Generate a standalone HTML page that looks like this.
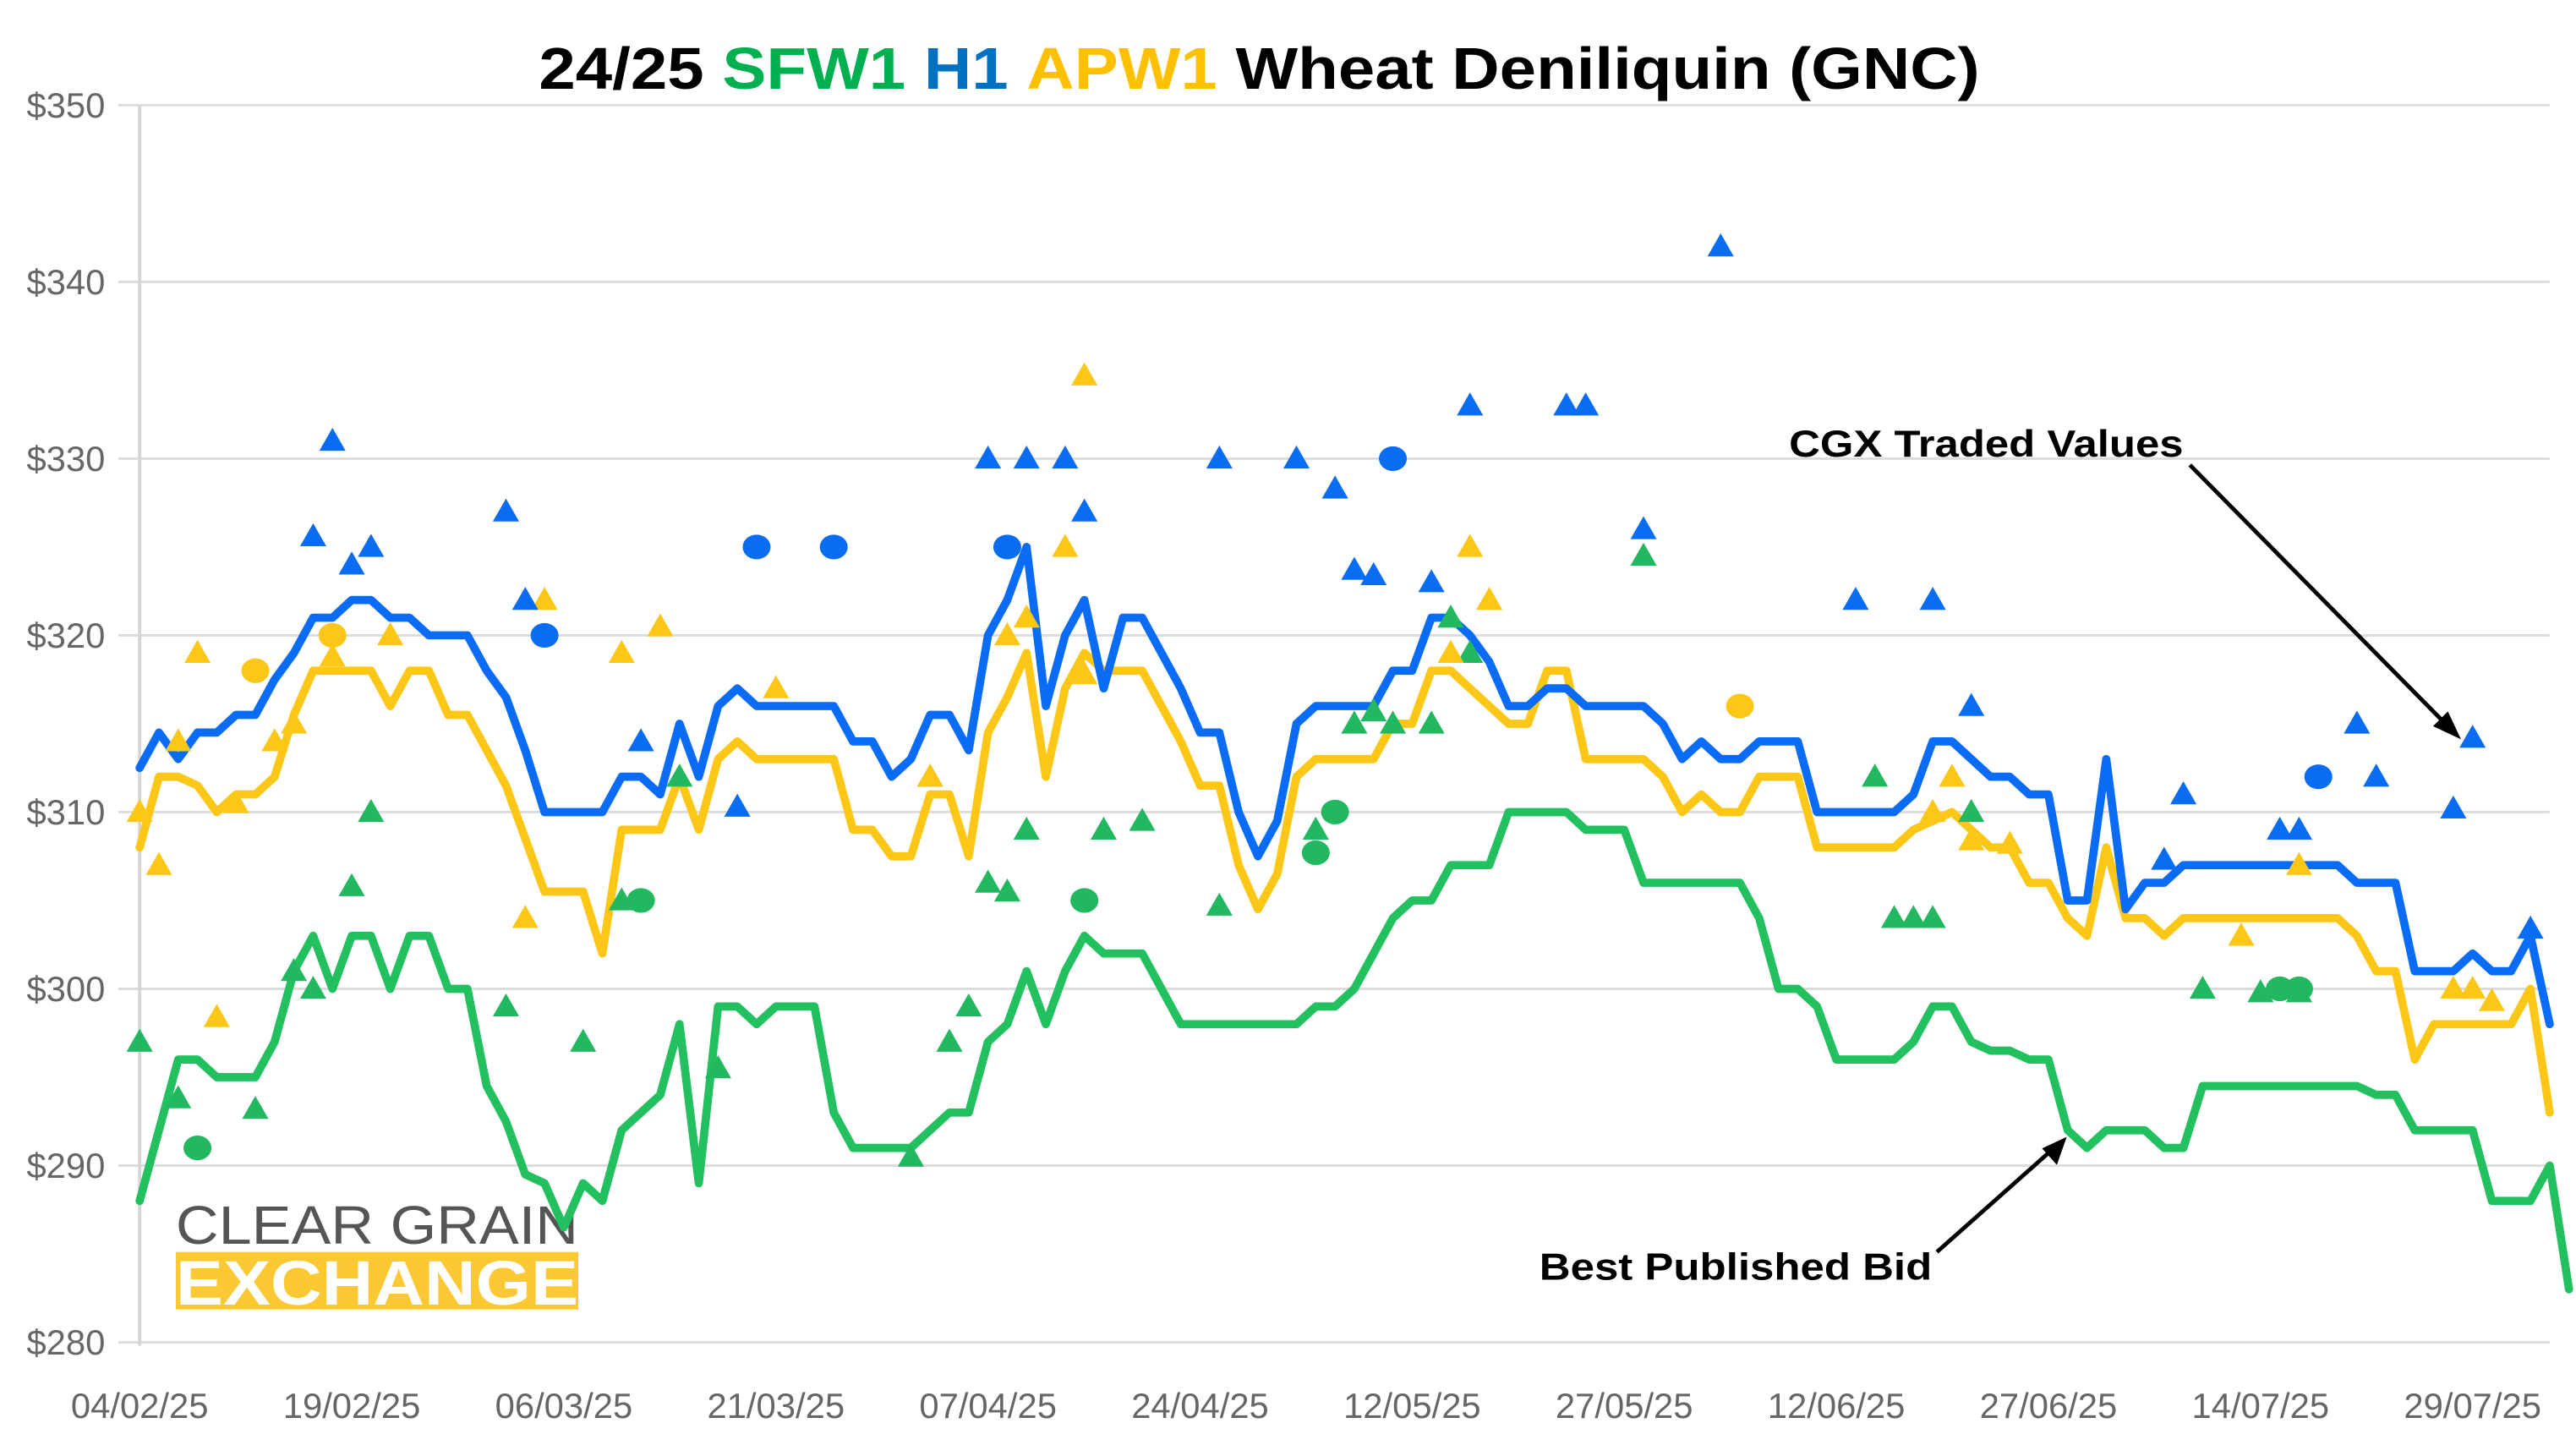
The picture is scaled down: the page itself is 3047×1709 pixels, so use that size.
<!DOCTYPE html>
<html><head><meta charset="utf-8"><style>html,body{margin:0;padding:0;background:#fff}svg{display:block}</style></head>
<body>
<svg id="chart" width="3047" height="1709" viewBox="0 0 1568 879.5" preserveAspectRatio="none" xmlns="http://www.w3.org/2000/svg" font-family="'Liberation Sans', sans-serif">
<text x="328" y="54" font-size="36" font-weight="bold" textLength="877" lengthAdjust="spacingAndGlyphs"><tspan fill="#000">24/25 </tspan><tspan fill="#00b050">SFW1 </tspan><tspan fill="#0070c0">H1 </tspan><tspan fill="#ffc000">APW1 </tspan><tspan fill="#000">Wheat Deniliquin (GNC)</tspan></text>
<g id="grid"></g>
<g id="yaxis"></g>
<g id="xaxis"></g>
<g id="logo">
<text x="107" y="757" font-size="33" fill="#555" textLength="245" lengthAdjust="spacingAndGlyphs">CLEAR GRAIN</text>
<rect x="107" y="762" width="245" height="35" fill="#fcc934"/>
<text x="107" y="794" font-size="38" font-weight="bold" fill="#fff" textLength="245" lengthAdjust="spacingAndGlyphs">EXCHANGE</text>
</g>
<g id="lines"></g>
<g id="marks"></g>
<g>
<text x="1089" y="278" font-size="23" font-weight="bold" textLength="240" lengthAdjust="spacingAndGlyphs">CGX Traded Values</text>
<line x1="1333" y1="283" x2="1490" y2="442" stroke="#000" stroke-width="2.5"/>
<polygon points="1498,450 1481,442 1490,433" fill="#000"/>
</g>
<g>
<text x="937" y="779" font-size="23" font-weight="bold" textLength="239" lengthAdjust="spacingAndGlyphs">Best Published Bid</text>
<line x1="1179" y1="762" x2="1250" y2="699" stroke="#000" stroke-width="2.5"/>
<polygon points="1258,692 1252,709 1243,699" fill="#000"/>
</g>
</svg>
<script>
const xTickLabels=["04/02/25","19/02/25","06/03/25","21/03/25","07/04/25","24/04/25","12/05/25","27/05/25","12/06/25","27/06/25","14/07/25","29/07/25"];
const yTicks=[280,290,300,310,320,330,340,350];
const h1Bid=[312.5,314.5,313,314.5,314.5,315.5,315.5,317.5,319,321,321,322,322,321,321,320,320,320,318,316.5,313.5,310,310,310,310,312,312,311,315,312,316,317,316,316,316,316,316,314,314,312,313,315.5,315.5,313.5,320,322,325,316,320,322,317,321,321,319,317,314.5,314.5,310,307.5,309.5,315,316,316,316,316,318,318,321,321,320,318.5,316,316,317,317,316,316,316,316,315,313,314,313,313,314,314,314,310,310,310,310,310,311,314,314,313,312,312,311,311,305,305,313,304.5,306,306,307,307,307,307,307,307,307,307,307,306,306,306,301,301,301,302,301,301,303,298];
const apw1Bid=[308,312,312,311.5,310,311,311,312,315.5,318,318,318,318,316,318,318,315.5,315.5,313.5,311.5,308.5,305.5,305.5,305.5,302,309,309,309,312,309,313,314,313,313,313,313,313,309,309,307.5,307.5,311,311,307.5,314.5,316.5,319,312,317,319,318,318,318,316,314,311.5,311.5,307,304.5,306.5,312,313,313,313,313,315,315,318,318,317,316,315,315,318,318,313,313,313,313,312,310,311,310,310,312,312,312,308,308,308,308,308,309,309.5,310,309,308,308,306,306,304,303,308,304,304,303,304,304,304,304,304,304,304,304,304,303,301,301,296,298,298,298,298,298,300,293];
const sfw1Bid=[288,292,296,296,295,295,295,297,301,303,300,303,303,300,303,303,300,300,294.5,292.5,289.5,289,286.5,289,288,292,293,294,298,289,299,299,298,299,299,299,293,291,291,291,291,292,293,293,297,298,301,298,301,303,302,302,302,300,298,298,298,298,298,298,298,299,299,300,302,304,305,305,307,307,307,310,310,310,310,309,309,309,306,306,306,306,306,306,304,300,300,299,296,296,296,296,297,299,299,297,296.5,296.5,296,296,292,291,292,292,292,291,291,294.5,294.5,294.5,294.5,294.5,294.5,294.5,294.5,294.5,294,294,292,292,292,292,288,288,288,290,283];
const h1TriIdx=[9,10,11,12,19,20,26,31,44,46,48,49,56,60,62,63,64,67,69,74,75,78,82,89,93,95,106,105,111,112,115,116,120,121,124];
const h1TriVal=[325.6,331,324,325,327,322,314,310.3,330,330,330,327,330,330,328.3,323.7,323.4,323,333,333,333,326,342,322,322,316,311,307.3,309,309,315,312,310.2,314.2,303.4];
const h1DotIdx=[21,32,36,45,65,113];
const h1DotVal=[320,325,325,325,330,312];
const apwTriIdx=[0,1,2,3,4,5,7,8,10,13,20,21,25,27,33,41,45,46,48,49,49,69,70,68,94,93,95,97,109,112,120,121,122];
const apwTriVal=[310,307,314,319,298.4,310.5,314,315,318.8,320,304,322,319,320.5,317,312,320,321,325,334.7,317.8,325,322,319,312,310,308.4,308.2,303,307,300,300,299.3];
const apwDotIdx=[6,10,83];
const apwDotVal=[318,320,316];
const sfwTriIdx=[0,2,6,8,9,11,12,19,23,25,28,30,40,41,42,43,44,45,46,50,52,56,61,63,64,65,67,68,69,78,90,91,92,93,95,107,110,112];
const sfwTriVal=[297,293.8,293.2,301,300,305.8,310,299,297,305,312,295.5,290.5,312,297,299,306,305.5,309,309,309.5,304.7,309,315,315.7,315,315,321,319,324.5,312,304,304,304,310,300,299.8,299.8];
const sfwDotIdx=[3,26,49,61,62,111,112];
const sfwDotVal=[291,305,305,307.7,310,300,300];

const NS="http://www.w3.org/2000/svg";
const X0=85,X1=1552,N=h1Bid.length-1,Y0=817,Y1=64,VMIN=280,VMAX=350;
function xs(i){return X0+(X1-X0)*i/N;}
function ys(v){return Y0-(v-VMIN)*(Y0-Y1)/(VMAX-VMIN);}
function mk(t,a,p){const e=document.createElementNS(NS,t);for(const k in a)e.setAttribute(k,a[k]);p.appendChild(e);return e;}
const grid=document.getElementById('grid'),ya=document.getElementById('yaxis'),xa=document.getElementById('xaxis');
yTicks.forEach(v=>{
  const l=mk('line',{x1:72,x2:1552,y1:ys(v),y2:ys(v),stroke:'#dcdcdc','stroke-width':1.5},grid);
  
  
  const t=mk('text',{x:64,y:ys(v)+7.5,'text-anchor':'end','font-size':21.5,fill:'#666'},ya);
  t.textContent='$'+v;
  
  
});
mk('line',{x1:X0,x2:X0,y1:Y1,y2:Y0+2,stroke:'#d6d6d6','stroke-width':2},grid);
xTickLabels.forEach((s,k)=>{
  const t=mk('text',{x:xs(k*11),y:863,'text-anchor':'middle','font-size':21.5,fill:'#666'},xa);
  t.textContent=s;
  
  
});
const lines=document.getElementById('lines'),marks=document.getElementById('marks');
function line(arr,col,name){
  const p=mk('polyline',{points:arr.map((v,i)=>xs(i).toFixed(2)+','+ys(v).toFixed(2)).join(' '),fill:'none',stroke:col,'stroke-width':5,'stroke-linejoin':'round','stroke-linecap':'round'},lines);
  
  
}
line(sfw1Bid,'#22c05e','sfw1-bid-line');
line(apw1Bid,'#fdc718','apw1-bid-line');
line(h1Bid,'#0a6cf5','h1-bid-line');
function tris(ix,vals,col,name){
  ix.forEach((i,k)=>{const x=xs(i),y=ys(vals[k]);
    const p=mk('polygon',{points:(x-8)+','+(y+6)+' '+(x+8)+','+(y+6)+' '+x+','+(y-8),fill:col},marks);
    
    });
}
function dots(ix,vals,col,name){
  ix.forEach((i,k)=>{
    const c=mk('ellipse',{cx:xs(i),cy:ys(vals[k]),rx:8.5,ry:7.5,fill:col},marks);
    
    });
}
tris(sfwTriIdx,sfwTriVal,'#22b860','sfw1-traded-triangle');
tris(apwTriIdx,apwTriVal,'#fdc718','apw1-traded-triangle');
tris(h1TriIdx,h1TriVal,'#0a6cf0','h1-traded-triangle');
dots(sfwDotIdx,sfwDotVal,'#22b860','sfw1-traded-dot');
dots(apwDotIdx,apwDotVal,'#fdc718','apw1-traded-dot');
dots(h1DotIdx,h1DotVal,'#0a6cf0','h1-traded-dot');
</script>
</body></html>
